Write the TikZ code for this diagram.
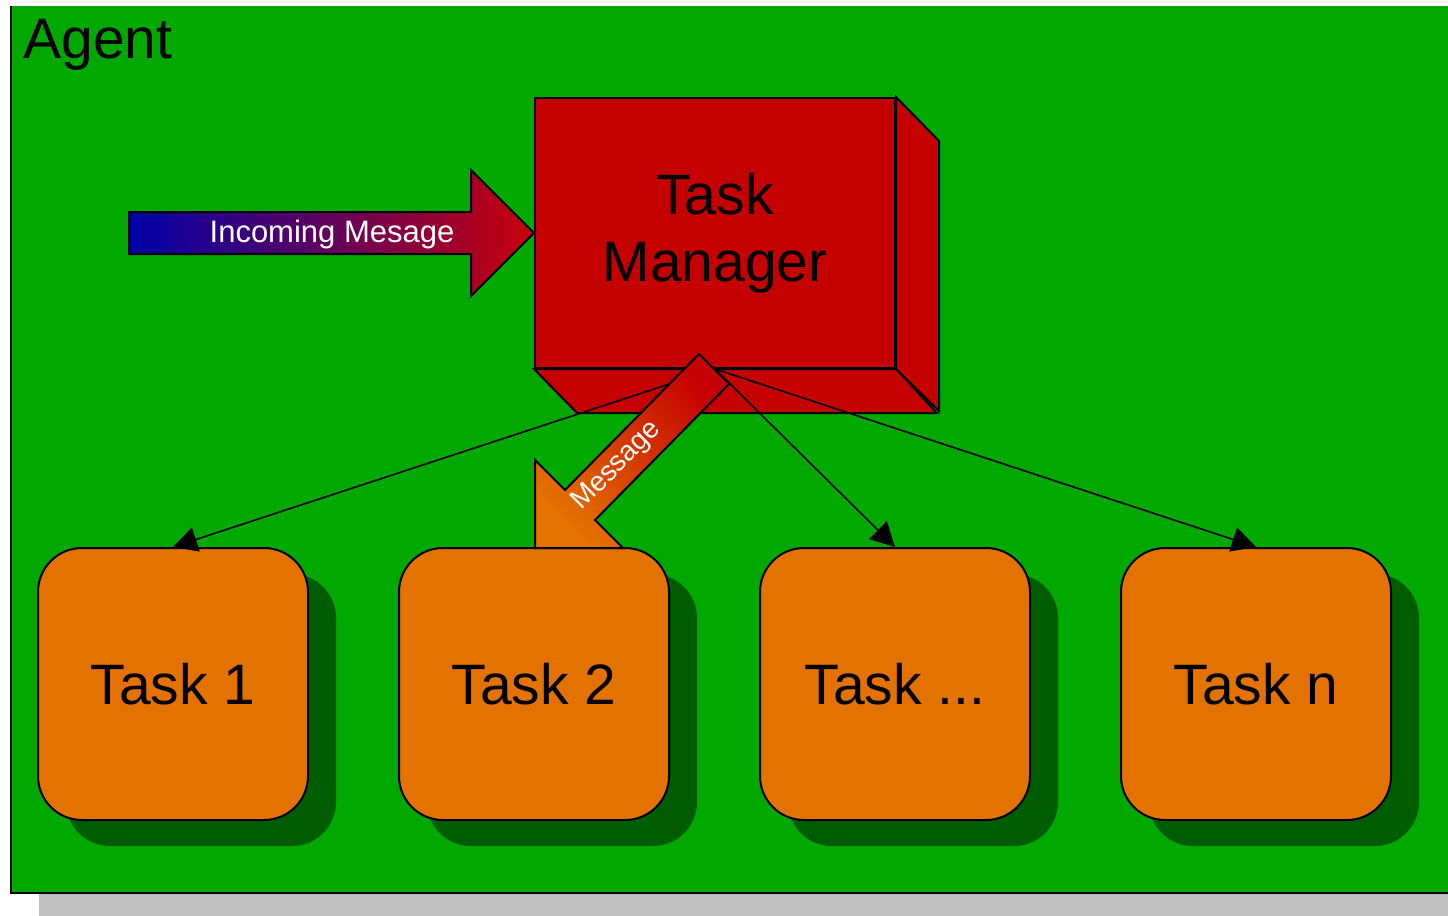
\documentclass[tikz,border=0pt]{standalone}
\usepackage{fontspec}
\setmainfont{Liberation Sans}
\usetikzlibrary{arrows.meta,positioning,shadows}
\definecolor{agentgreen}{RGB}{0,168,0}
\definecolor{panelgray}{RGB}{192,192,192}
\definecolor{managerred}{RGB}{196,0,0}
\definecolor{taskorange}{RGB}{228,114,0}
\definecolor{shadowgreen}{RGB}{0,92,0}
\definecolor{arrowblue}{RGB}{0,0,170}
\definecolor{arrowred}{RGB}{200,0,10}
\tikzset{
    %Define standard arrow tip
    >={Triangle[length=12pt,width=12.5pt]},
    %Define style for the manager box
    managerbox/.style={
           rectangle,
           draw=black, line width=1pt,
           fill=managerred,
           minimum width=180pt,
           minimum height=135pt,
           font=\fontsize{28.5}{33.5}\selectfont,
           align=center},
    cubeface/.style={
           draw=black, line width=1pt,
           fill=managerred},
    %Define style for task boxes
    taskbox/.style={
           rectangle,
           rounded corners=22pt,
           draw=black, line width=1pt,
           fill=taskorange,
           minimum width=135pt,
           minimum height=136pt,
           font=\fontsize{28.5}{34}\selectfont,
           drop shadow={shadow xshift=14pt, shadow yshift=-13pt,
                        fill=shadowgreen, opacity=1}},
    %Define style for message texts
    msgtext/.style={
           text=white,
           inner sep=0pt,
           font=\fontsize{15.5}{18}\selectfont},
    % Define arrow style
    pil/.style={
           ->,
           line width=0.8pt}
}
\begin{document}
\begin{tikzpicture}[x=0.5pt,y=-0.5pt,node distance=44.5pt]
\useasboundingbox (0,0) rectangle (1448,916);
\clip (0,0) rectangle (1448,916);

 %agent panel
\fill[panelgray] (39,28) rectangle (1470,916);
\fill[agentgreen] (11,6) rectangle (1470,893);
\draw[line width=1pt] (11,6) -- (11,893) -- (1470,893);
\node[anchor=base west, inner sep=0pt, font=\fontsize{28.5}{34}\selectfont] (agent) at (23,58) {Agent};

 %task manager
\node[managerbox] (manager) at (715,233) {Task\\Manager};
\draw[cubeface] (manager.north east) -- ++(43,44) -- ++(0,270) -- (manager.south east) -- cycle;
\draw[cubeface] (manager.south west) -- ++(43,44) -- ++(360,0) -- (manager.south east) -- cycle;

 %incoming message
\shade[draw=black, line width=1pt, left color=arrowblue, right color=arrowred]
    (129,212) -- (471,212) -- (471,170) -- (manager.west) -- (471,296) -- (471,254) -- (129,254) -- cycle;
\node[msgtext] (incoming) at (332,234) {Incoming Mesage};

 %tasks
\node[taskbox] (task1) at (173,684) {Task 1};
\node[taskbox, right=of task1] (task2) {Task 2};
\node[taskbox, right=of task2] (task3) {Task ...};
\node[taskbox, right=of task3] (taskn) {Task n};

 %connectors
\path[pil]
    (manager.south) edge (task1.north)
    (manager.south) edge (task3.north)
    (manager.south) edge (taskn.north);

 %message to task 2
\shade[draw=black, line width=1pt, top color=managerred, bottom color=taskorange, shading angle=-45]
    (699,354) -- (729,384) -- (595,520) -- (623,548) -- (535,548) -- (535,460) -- (565,490) -- cycle;
\node[msgtext, rotate=45, font=\fontsize{14}{16}\selectfont] (message) at (617,466) {Message};

\end{tikzpicture}
\end{document}
